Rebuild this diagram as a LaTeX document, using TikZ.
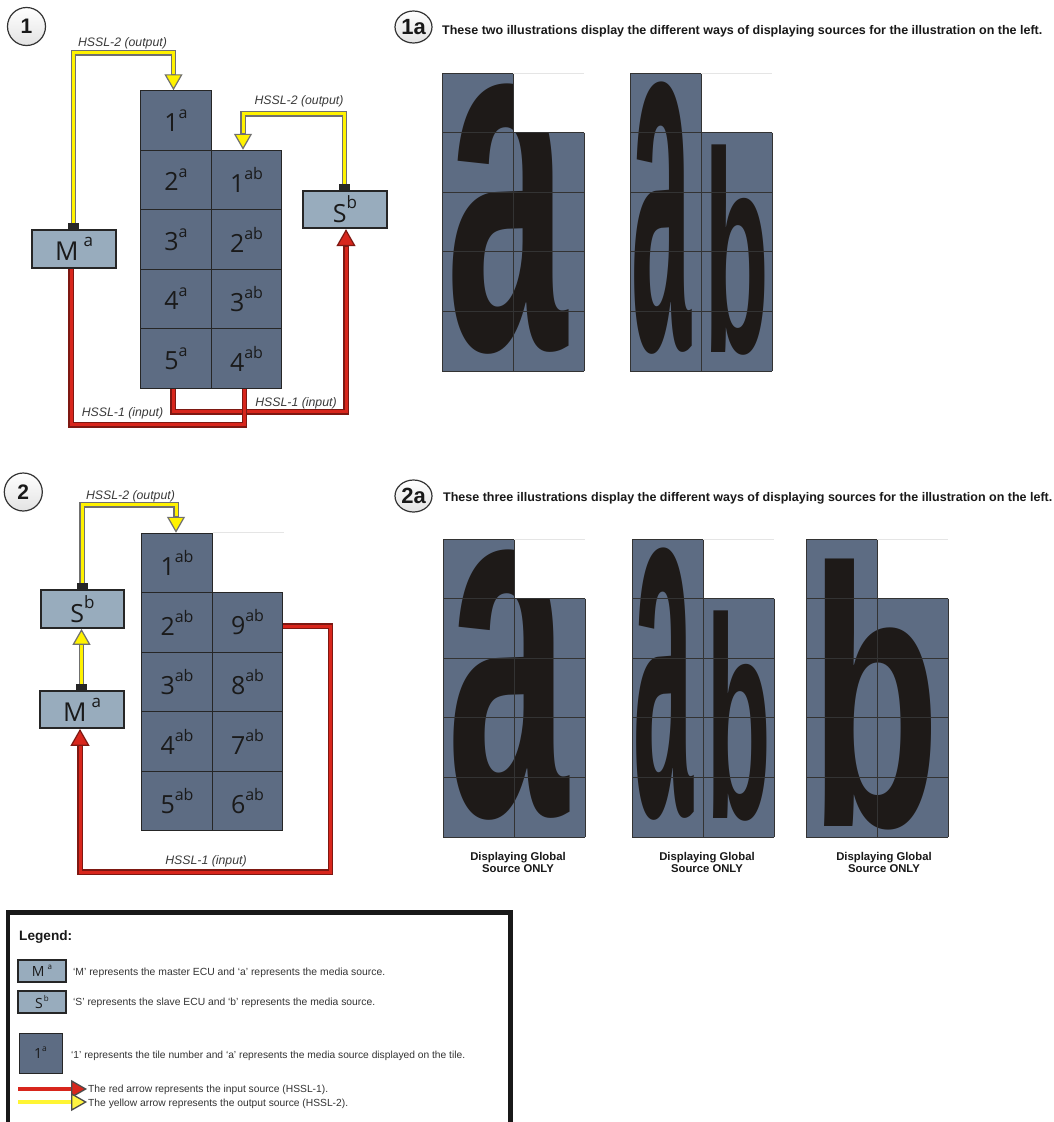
\documentclass[tikz,border=0pt]{standalone}
\usepackage{fontspec}
\setmainfont{Liberation Sans}
\newfontfamily\osans{Open Sans}
\usetikzlibrary{arrows.meta,calc,shapes.geometric}
\definecolor{tileC}{HTML}{5D6C83}
\definecolor{boxC}{HTML}{98ACBD}
\definecolor{edgeC}{HTML}{262626}
\definecolor{letC}{HTML}{1E1A18}
\definecolor{yF}{HTML}{FFF200}
\definecolor{yO}{HTML}{707070}
\definecolor{rF}{HTML}{D8261C}
\definecolor{rO}{HTML}{7E1812}
\definecolor{labC}{HTML}{3A3A3A}
\definecolor{txtC}{HTML}{1A1A1A}

\newcommand{\tlab}[2]{{\osans\fontsize{25}{25}\selectfont #1}\raisebox{13pt}{\osans\fontsize{16}{16}\selectfont #2}}
\newcommand{\tlabs}[2]{{\osans\fontsize{14}{14}\selectfont #1}\raisebox{7pt}{\osans\fontsize{8.5}{8.5}\selectfont #2}}
\newcommand{\mlab}{{\osans\fontsize{26}{26}\selectfont M\hspace{5pt}\raisebox{14pt}{\fontsize{17}{17}\selectfont a}}}
\newcommand{\slab}{{\osans\fontsize{25}{25}\selectfont S\raisebox{14pt}{\fontsize{17}{17}\selectfont b}}}
\newcommand{\mlabs}{{\osans\fontsize{14}{14}\selectfont M\hspace{3pt}\raisebox{7pt}{\fontsize{8}{8}\selectfont a}}}
\newcommand{\slabs}{{\osans\fontsize{14}{14}\selectfont S\hspace{1pt}\raisebox{7pt}{\fontsize{8}{8}\selectfont b}}}

\newcommand{\ylink}[1]{\draw[yO,line width=5.5pt,-{Triangle[width=18pt,length=16pt,line width=1.2pt,fill=yF]}] #1; \draw[yF,line width=3pt,shorten >=16.5pt] #1;}
\newcommand{\rlink}[1]{\draw[rO,line width=5.5pt,-{Triangle[width=19pt,length=17pt,line width=1.2pt,fill=rF]}] #1; \draw[rF,line width=3pt,shorten >=17.5pt] #1;}
\newcommand{\rline}[1]{\draw[rO,line width=5.5pt] #1; \draw[rF,line width=3pt] #1;}

\newcommand{\bigglyph}[6]{\node[inner sep=0pt, anchor=south west, text=letC] (#1) at (#3,#4) {\resizebox*{#5pt}{#6pt}{\bfseries #2}};}

% #1 shift, #2 clipped letters, #3 free letters
\newcommand{\lgrid}[3]{%
\begin{scope}[shift={#1}]
\fill[tileC] (0,0) -- (71,0) -- (71,59.6) -- (142,59.6) -- (142,298) -- (0,298) -- cycle;
\begin{scope}
\clip (0,0) -- (71,0) -- (71,59.6) -- (142,59.6) -- (142,298) -- (0,298) -- cycle;
#2
\end{scope}
#3
\draw[gridline] (0,0) -- (71,0) (0,59.6) -- (142,59.6) (0,119.2) -- (142,119.2) (0,178.8) -- (142,178.8) (0,238.4) -- (142,238.4) (0,298) -- (142,298) (0,0) -- (0,298) (71,0) -- (71,298) (142,59.6) -- (142,298);
\draw[gray!20, line width=0.6pt] (71,0) -- (142,0);
\end{scope}}

\begin{document}
\begin{tikzpicture}[x=1pt,y=-1pt,
  tile/.style={rectangle, draw=edgeC, line width=1pt, fill=tileC, minimum width=70.5pt, minimum height=59.5pt, inner sep=0pt, text=txtC},
  ecu/.style={rectangle, draw=black!85, line width=1.8pt, fill=boxC, minimum width=84pt, minimum height=37.5pt, inner sep=0pt, text=txtC},
  plug/.style={rectangle, fill=black!85, minimum width=11pt, minimum height=7pt, inner sep=0pt},
  hssl/.style={font=\fontsize{12.3}{12.3}\selectfont\itshape, text=labC, inner sep=0pt, anchor=base},
  circ/.style={circle, draw=black!80, line width=1.2pt, minimum size=38pt, inner sep=0pt, top color=white, bottom color=gray!22, font=\bfseries\fontsize{21}{21}\selectfont, text=black!90},
  ecirc/.style={ellipse, draw=black!80, line width=1.2pt, minimum width=37pt, minimum height=32pt, inner sep=0pt, top color=white, bottom color=gray!22, font=\bfseries\fontsize{22}{22}\selectfont, text=black!90},
  gridline/.style={draw=black!80, line width=1pt},
  head/.style={font=\bfseries\fontsize{12.5}{12.5}\selectfont, text=black!90, inner sep=0pt, anchor=base west},
  capt/.style={font=\bfseries\fontsize{11.3}{11.3}\selectfont, text=black!90, inner sep=0pt, anchor=base},
  legt/.style={inner sep=0pt, anchor=base west, text=black!80}
]
\useasboundingbox (0,0) rectangle (1053,1122);
\fill[white] (0,0) rectangle (1053,1122);

%% ---------------- Section 1 ----------------
\node[circ] (c1) at (26.5,26.5) {1};
\foreach \n/\y in {1/120.5,2/180,3/239.5,4/299,5/358.5}
  \node[tile] (A\n) at (176,\y) {\tlab{\n}{a}};
\foreach \n/\y in {1/180,2/239.5,3/299,4/358.5}
  \node[tile] (B\n) at (246.5,\y) {\tlab{\n}{ab}};
\node[ecu, minimum height=38pt] (M1) at (74,249) {\mlab};
\node[ecu] (S1) at (345,209.5) {\slab};
\node[plug] (P1) at (73.5,226.5) {};
\node[plug] (P2) at (344.5,187.5) {};

\ylink{(P1.north) -- ++(0,-170) -| ($(A1.north)+(-2.5,0)$)}
\ylink{(P2.north) -- ++(0,-70) -| ($(B1.north)+(-3.5,0)$)}
\rlink{($(A5.south)+(-3,0)$) -- ++(0,23) -| ($(S1.south)+(1,0)$)}
\rline{($(M1.south)+(-3,0)$) |- ($(B4.south)+(-2,36)$) -- ($(B4.south)+(-2,0)$)}

\node[hssl] (l1) at (122.5,46) {HSSL-2 (output)};
\node[hssl] (l2) at (299,104) {HSSL-2 (output)};
\node[hssl] (l3) at (122.5,416.5) {HSSL-1 (input)};
\node[hssl] (l4) at (296,406) {HSSL-1 (input)};

%% ---------------- Section 1a ----------------
\node[ecirc] (c1a) at (413.5,27) {1a};
\node[head] (h1) at (442,34) {These two illustrations display the different ways of displaying sources for the illustration on the left.};
\lgrid{(442,73)}{\bigglyph{g1a}{a}{4}{282}{121}{270}}{}
\lgrid{(630,73)}{}{\bigglyph{g2a}{a}{1}{282}{60}{272}\bigglyph{g2b}{b}{74.2}{282}{64.7}{210}}

%% ---------------- Section 2 ----------------
\node[circ] (c2) at (23.3,492) {2};
\foreach \n/\y in {1/563,2/622.5,3/682,4/741.5,5/801}
  \node[tile] (C\n) at (177,\y) {\tlab{\n}{ab}};
\foreach \n/\y in {9/622.5,8/682,7/741.5,6/801}
  \node[tile] (D\n) at (247.5,\y) {\tlab{\n}{ab}};
\draw[gray!20, line width=0.6pt] (C1.north east) -- ++(71,0);
\node[ecu, minimum width=83pt, minimum height=38pt] (S2) at (82.5,609) {\slab};
\node[ecu, minimum height=37pt] (M2) at (82,709.5) {\mlab};
\node[plug] (P3) at (82,586.5) {};
\node[plug] (P4) at (81.5,687.5) {};

\ylink{(P3.north) -- ++(0,-78) -| ($(C1.north)+(-1,0)$)}
\ylink{(P4.north) -- (P4.north |- S2.south)}
\rlink{($(D9.east)+(0,3.5)$) -- ++(47,0) -- ++(0,246) -| ($(M2.south)+(-2,0)$)}

\node[hssl] (l5) at (130.5,499) {HSSL-2 (output)};
\node[hssl] (l6) at (206,864) {HSSL-1 (input)};

%% ---------------- Section 2a ----------------
\node[ecirc] (c2a) at (413.5,496) {2a};
\node[head] (h2) at (443,501) {These three illustrations display the different ways of displaying sources for the illustration on the left.};
\lgrid{(443,539)}{\bigglyph{k1a}{a}{4}{282}{121}{270}}{}
\lgrid{(632,539)}{}{\bigglyph{k2a}{a}{1}{282}{60}{272}\bigglyph{k2b}{b}{74.2}{282}{64.7}{210}}
\lgrid{(806,539)}{}{\bigglyph{k3b}{b}{4.4}{291}{129.4}{270}}
\foreach \i/\x in {1/518,2/707,3/884}{
  \node[capt] (d\i a) at (\x,860) {Displaying Global};
  \node[capt] (d\i b) at (\x,872) {Source ONLY};
}

%% ---------------- Legend ----------------
\draw[line width=4.5pt, black!90] (8,1124) -- (8,912.5) -- (510.5,912.5) -- (510.5,1124);
\node[legt, text=black!90] (lg) at (19,940.7) {\resizebox{53pt}{!}{\bfseries Legend:}};
\node[ecu, line width=1.3pt, minimum width=48pt, minimum height=22pt] (LM) at (42,971) {\mlabs};
\node[legt] (tM) at (73,975) {\resizebox{312pt}{!}{‘M’ represents the master ECU and ‘a’ represents the media source.}};
\node[ecu, line width=1.3pt, minimum width=48pt, minimum height=22pt] (LS) at (42,1002) {\slabs};
\node[legt] (tS) at (73,1005) {\resizebox{302pt}{!}{‘S’ represents the slave ECU and ‘b’ represents the media source.}};
\node[tile, minimum width=43pt, minimum height=40pt] (LT) at (40.5,1053) {\tlabs{1}{a}};
\node[legt] (tT) at (71,1058.3) {\resizebox{394pt}{!}{‘1’ represents the tile number and ‘a’ represents the media source displayed on the tile.}};
\coordinate (r0) at (18,1089);
\coordinate (r1) at (87,1089);
\coordinate (y0) at (18,1102);
\coordinate (y1) at (87,1102);
\draw[rF, line width=3.5pt, -{Triangle[width=18pt,length=16pt,line width=1.3pt,color=black!70,fill=rF]}] (r0) -- (r1);
\draw[yF!80!white, line width=3.5pt, -{Triangle[width=18pt,length=16pt,line width=1.3pt,color=black!70,fill=yF!75!white]}] (y0) -- (y1);
\node[legt] (tR) at (88,1092.3) {\resizebox{240pt}{!}{The red arrow represents the input source (HSSL-1).}};
\node[legt] (tY) at (88,1106) {\resizebox{260pt}{!}{The yellow arrow represents the output source (HSSL-2).}};
\end{tikzpicture}
\end{document}
